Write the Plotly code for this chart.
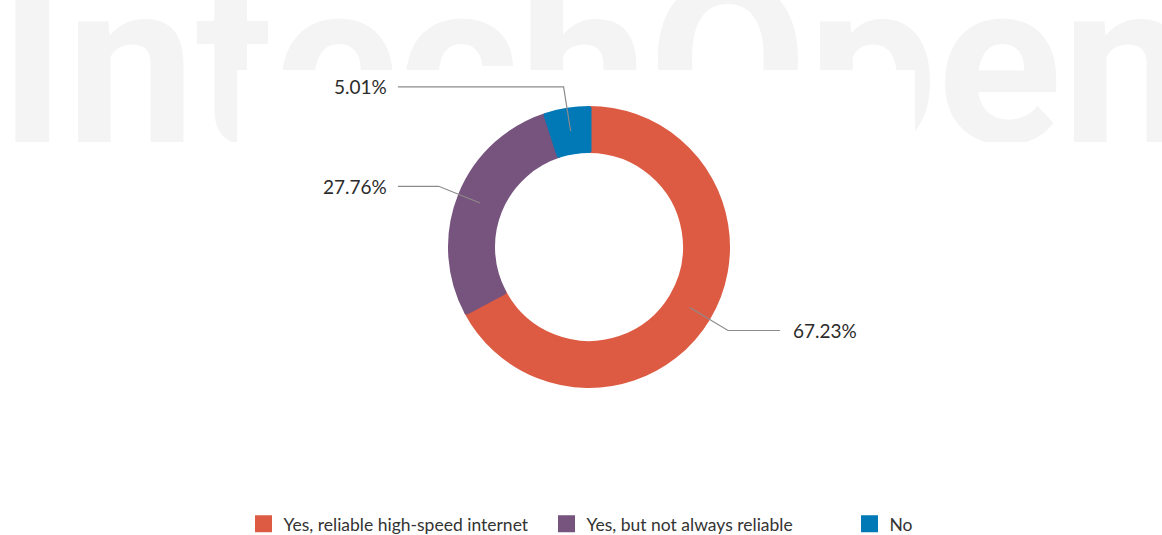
import math
import plotly.graph_objects as go

# ---- data ----
labels = ["Yes, reliable high-speed internet", "Yes, but not always reliable", "No"]
values = [67.23, 27.76, 5.01]
pct_text = ["67.23%", "27.76%", "5.01%"]
colors = ["#DD5B43", "#76547E", "#0079B6"]
watermark = "IntechOpen"

# ---- layout constants (pixels) ----
W, H = 1162, 535
CX, CY, R = 589, 247, 141          # donut centre / outer radius
R_IN = 94                           # inner radius
EDGE = 5                            # slice outline width (also enlarges legend swatches)
R_DOM = R - EDGE / 2
HOLE = (R_IN + EDGE / 2) / R_DOM
R_MID = (R + R_IN) / 2              # leader line start radius
R_ELB = R * 1.15                    # leader line elbow radius
X_OFF = R * 1.355                   # horizontal end of leader lines from centre

fig = go.Figure()

# background watermark on the first subplot
fig.add_trace(go.Scatter(
    x=[595], y=[85], mode="text", text=[watermark], textposition="middle center",
    textfont=dict(family="Roboto", size=231, color="#f4f4f4", weight="bold"),
    hoverinfo="skip", showlegend=False, cliponaxis=True, xaxis="x", yaxis="y"))
# white chart panel (second subplot, drawn above the first) covering the watermark
fig.add_trace(go.Scatter(
    x=[0, 237, 237, 915, 915, W, W, 0, 0],
    y=[142, 142, 70, 70, 142, 142, H, H, 142],
    mode="lines", fill="toself", fillcolor="white", line=dict(width=0),
    hoverinfo="skip", showlegend=False, xaxis="x2", yaxis="y2"))

# donut
fig.add_trace(go.Pie(
    labels=labels, values=values, hole=HOLE, sort=False, direction="clockwise", rotation=0,
    marker=dict(colors=colors, line=dict(color=colors, width=EDGE)), textinfo="none",
    domain=dict(x=[(CX - R_DOM) / W, (CX + R_DOM) / W], y=[(H - CY - R_DOM) / H, (H - CY + R_DOM) / H]),
    showlegend=True))

# leader lines and labels computed from the slice angles
total = sum(values)
cum = 0.0
shapes, annotations = [], []
for v, t in zip(values, pct_text):
    mid = (cum + v / 2) / total * 2 * math.pi
    cum += v
    sx, sy = CX + R_MID * math.sin(mid), CY - R_MID * math.cos(mid)
    ex, ey = CX + R_ELB * math.sin(mid), CY - R_ELB * math.cos(mid)
    right = math.sin(mid) >= 0
    hx = CX + X_OFF if right else CX - X_OFF
    shapes.append(dict(type="path", xref="x2", yref="y2", layer="above",
                       path=f"M{sx:.1f},{sy:.1f} L{ex:.1f},{ey:.1f} L{hx:.1f},{ey:.1f}",
                       line=dict(color="#8f8a8a", width=1.2)))
    annotations.append(dict(x=hx + (11 if right else -9), y=ey, xref="x2", yref="y2", text=t,
                            showarrow=False, xanchor="left" if right else "right", yanchor="middle",
                            font=dict(family="Lato", size=19, color="#2b2b2b")))

axis_common = dict(visible=False, fixedrange=True, domain=[0, 1])
fig.update_layout(
    width=W, height=H, margin=dict(l=0, r=0, t=0, b=0, autoexpand=False),
    paper_bgcolor="white", plot_bgcolor="rgba(0,0,0,0)",
    xaxis=dict(range=[0, W], **axis_common),
    yaxis=dict(range=[H, 0], **axis_common),
    xaxis2=dict(range=[0, W], anchor="y2", **axis_common),
    yaxis2=dict(range=[H, 0], anchor="x2", **axis_common),
    shapes=shapes, annotations=annotations,
    legend=dict(orientation="h", x=243.5 / W, xanchor="left", y=-0.013, yanchor="bottom",
                entrywidth=258, entrywidthmode="pixels",
                font=dict(family="Lato", size=17.5, color="#333333"), bgcolor="rgba(0,0,0,0)"),
)

fig.write_html("out.html", config={"displayModeBar": False},
               post_script="document.body.style.margin='0';")
